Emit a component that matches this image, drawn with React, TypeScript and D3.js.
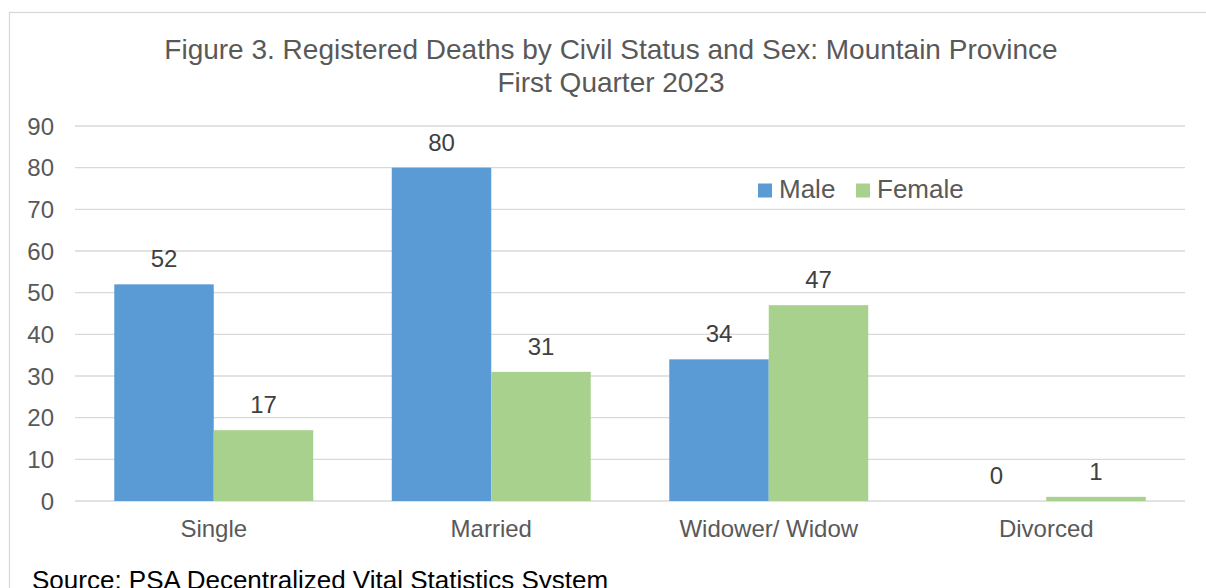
import React from "react";
import * as d3 from "d3";

const categories = ["Single", "Married", "Widower/ Widow", "Divorced"];
const seriesNames = ["Male", "Female"];
const maleValues = [52, 80, 34, 0];
const femaleValues = [17, 31, 47, 1];
const yTicks = [0, 10, 20, 30, 40, 50, 60, 70, 80, 90];
const titleLines = [
  "Figure 3. Registered Deaths by Civil Status and Sex: Mountain Province",
  "First Quarter 2023",
];
const sourceText = "Source: PSA Decentralized Vital Statistics System";

const W = 1206;
const H = 588;
const FONT = "'Liberation Sans', Arial, Helvetica, sans-serif";
const colors = ["#5b9bd5", "#a9d18e"];

export default function App() {
  const plotLeft = 75;
  const plotRight = 1185;
  const x0 = d3
    .scaleBand<string>()
    .domain(categories)
    .range([plotLeft, plotRight])
    .paddingInner(0.283)
    .paddingOuter(0.1415);
  const x1 = d3
    .scaleBand<string>()
    .domain(seriesNames)
    .range([0, x0.bandwidth()])
    .padding(0);
  const y = d3.scaleLinear().domain([0, 90]).range([501, 126]);

  const values = [maleValues, femaleValues];

  return (
    <svg
      width={W}
      height={H}
      style={{ position: "absolute", left: 0, top: 0, background: "#fff" }}
      fontFamily={FONT}
    >
      <rect x={0} y={0} width={W} height={H} fill="#ffffff" />
      <rect
        x={9.5}
        y={12.5}
        width={W + 20}
        height={H + 20}
        fill="none"
        stroke="#d9d9d9"
        strokeWidth={1.3}
      />
      {titleLines.map((t, i) => (
        <text
          key={i}
          x={611}
          y={59 + i * 33}
          textAnchor="middle"
          fontSize={28}
          fill="#595959"
        >
          {t}
        </text>
      ))}
      {yTicks.map((t) => (
        <g key={t}>
          <line
            x1={plotLeft}
            x2={plotRight}
            y1={y(t)}
            y2={y(t)}
            stroke="#d9d9d9"
            strokeWidth={1.3}
          />
          <text
            x={54}
            y={y(t) + 8.5}
            textAnchor="end"
            fontSize={24}
            fill="#595959"
          >
            {t}
          </text>
        </g>
      ))}
      {categories.map((c, ci) => (
        <g key={c}>
          {seriesNames.map((s, si) => {
            const v = values[si][ci];
            const bx = (x0(c) ?? 0) + (x1(s) ?? 0);
            return (
              <g key={s}>
                <rect
                  x={bx}
                  y={y(v)}
                  width={x1.bandwidth()}
                  height={y(0) - y(v)}
                  fill={colors[si]}
                />
                <text
                  x={bx + x1.bandwidth() / 2}
                  y={y(v) - 17}
                  textAnchor="middle"
                  fontSize={24}
                  fill="#404040"
                >
                  {v}
                </text>
              </g>
            );
          })}
          <text
            x={(x0(c) ?? 0) + x0.bandwidth() / 2}
            y={537}
            textAnchor="middle"
            fontSize={24}
            fill="#595959"
          >
            {c}
          </text>
        </g>
      ))}
      {/* Legend */}
      {seriesNames.map((s, i) => {
        const lx = [758, 856][i];
        return (
          <g key={s}>
            <rect x={lx} y={183.5} width={14} height={14} fill={colors[i]} />
            <text x={lx + 21} y={198} fontSize={26} fill="#595959">
              {s}
            </text>
          </g>
        );
      })}
      <text x={32} y={589} fontSize={26} fill="#000000">
        {sourceText}
      </text>
    </svg>
  );
}
